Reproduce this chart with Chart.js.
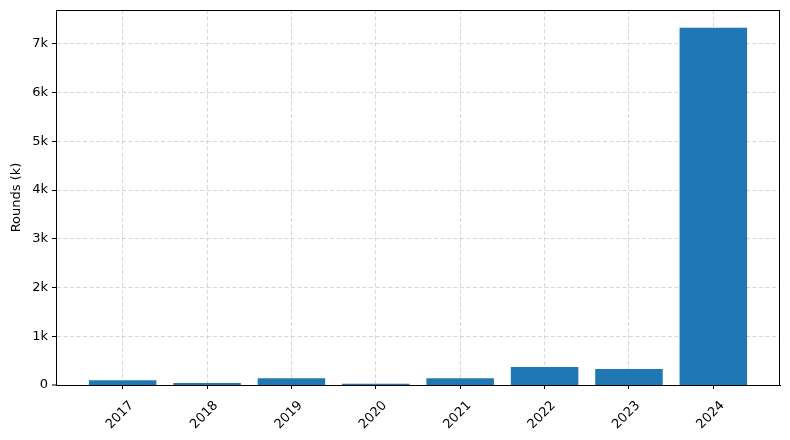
<!DOCTYPE html>
<html>
<head>
<meta charset="utf-8">
<script src="https://cdn.jsdelivr.net/npm/chart.js@4"></script>
<style>
  html, body { margin: 0; padding: 0; background: #fff; }
  #wrap { width: 790px; height: 440px; }
</style>
</head>
<body>
<div id="wrap"><canvas id="chart-rounds"></canvas></div>
<script>
// Rounds per year, in raw units (axis shows thousands)
var years = ['2017', '2018', '2019', '2020', '2021', '2022', '2023', '2024'];
var rounds = [100, 40, 140, 25, 140, 370, 330, 7330];
var yTicks = [0, 1000, 2000, 3000, 4000, 5000, 6000, 7000];

var azul = '#1f77b4';
var rejilla = 'rgba(176,176,176,0.5)';
var fuente = { family: 'DejaVu Sans', size: 13 };

// matplotlib-style frame on all four sides
var marco = {
  id: 'marco',
  afterDraw: function (chart) {
    var a = chart.chartArea, ctx = chart.ctx;
    ctx.save();
    ctx.strokeStyle = '#000';
    ctx.lineWidth = 1;
    ctx.strokeRect(Math.round(a.left) + 0.5, Math.round(a.top) + 0.5,
      Math.round(a.right - a.left) - 1, Math.round(a.bottom - a.top));
    ctx.restore();
  }
};

// the zero line sits under the spine: no grid there, so bars reach the axis
function esCero(ctx) {
  return ctx.tick && ctx.tick.value === 0 && ctx.scale.axis === 'y';
}
function colorRejilla(ctx) { return esCero(ctx) ? 'rgba(0,0,0,0)' : rejilla; }
function anchoRejilla(ctx) { return esCero(ctx) ? 0 : 1; }

Chart.defaults.font.family = 'DejaVu Sans';
Chart.defaults.color = '#000';

new Chart(document.getElementById('chart-rounds').getContext('2d'), {
  type: 'bar',
  data: {
    datasets: [{
      data: years.map(function (_, i) { return { x: i, y: rounds[i] }; }),
      backgroundColor: azul,
      borderWidth: 0,
      categoryPercentage: 1,
      barPercentage: 0.8,
    }],
  },
  options: {
    responsive: true,
    maintainAspectRatio: false,
    animation: false,
    layout: { padding: { top: 10, right: 10, left: 5, bottom: 0 } },
    plugins: { legend: { display: false }, tooltip: { enabled: false } },
    scales: {
      x: {
        type: 'linear',
        offset: false,
        min: -0.79,
        max: years.length - 1 + 0.79,
        z: 1,
        afterBuildTicks: function (s) {
          s.ticks = years.map(function (_, i) { return { value: i }; });
        },
        afterFit: function (s) { s.height = 55; },
        grid: { offset: false, color: rejilla, tickColor: '#000', tickLength: 4, lineWidth: 1, tickWidth: 1 },
        border: { color: '#000', dash: [4, 2.5] },
        ticks: {
          font: fuente, color: '#000', padding: 9,
          minRotation: 45, maxRotation: 45, labelOffset: 9,
          callback: function (v) { return years[v]; },
        },
      },
      y: {
        min: 0,
        max: Math.max.apply(null, rounds) * 1.05,
        z: 1,
        afterBuildTicks: function (s) {
          s.ticks = yTicks.map(function (v) { return { value: v }; });
        },
        afterFit: function (s) { s.width = 51; s.paddingTop = 0; s.paddingBottom = 0; },
        grid: { color: colorRejilla, lineWidth: anchoRejilla, tickColor: '#000', tickLength: 4, tickWidth: 1 },
        border: { color: '#000', dash: [4, 2.5] },
        title: { display: true, text: 'Rounds (k)', font: fuente, color: '#000', padding: { top: 4, bottom: 4 } },
        ticks: {
          font: fuente, color: '#000', padding: 4,
          callback: function (v) { return v === 0 ? '0' : (v / 1000) + 'k'; },
        },
      },
    },
  },
  plugins: [marco],
});
</script>
</body>
</html>
